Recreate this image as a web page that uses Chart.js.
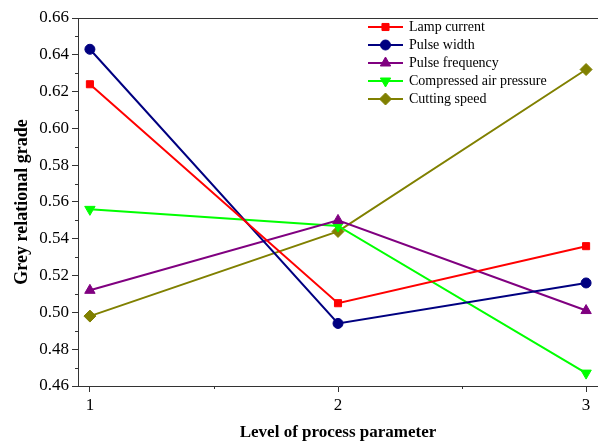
<!DOCTYPE html>
<html>
<head>
<meta charset="utf-8">
<script src="https://cdn.jsdelivr.net/npm/chart.js@4/dist/chart.umd.min.js"></script>
<style>
  html, body { margin: 0; padding: 0; background: #fff; }
  #wrap { width: 598px; height: 443px; }
</style>
</head>
<body>
<div id="wrap"><canvas id="chart"></canvas></div>
<script>
// levels of each process parameter
const levels = [1, 2, 3];
const seriesNames = ['Lamp current', 'Pulse width', 'Pulse frequency', 'Compressed air pressure', 'Cutting speed'];
const lampCurrent = [0.624, 0.505, 0.536];
const pulseWidth = [0.643, 0.494, 0.516];
const pulseFrequency = [0.512, 0.550, 0.501];
const airPressure = [0.556, 0.547, 0.467];
const cuttingSpeed = [0.498, 0.544, 0.632];
const yTicks = [0.46, 0.48, 0.50, 0.52, 0.54, 0.56, 0.58, 0.60, 0.62, 0.64, 0.66];

const serif = '"Liberation Serif", "Times New Roman", serif';
const axisColor = '#333';

const styles = [
  { color: '#ff0000', point: 'rect', r: 5 },
  { color: '#000080', point: 'circle', r: 5 },
  { color: '#800080', point: 'triangle', r: 6 },
  { color: '#00ff00', point: 'triangle', r: 6, rot: 180 },
  { color: '#808000', point: 'rectRot', r: 6 },
];
const allValues = [lampCurrent, pulseWidth, pulseFrequency, airPressure, cuttingSpeed];

const datasets = allValues.map((vals, i) => ({
  label: seriesNames[i],
  data: levels.map((x, j) => ({ x: x, y: vals[j] })),
  borderColor: styles[i].color,
  backgroundColor: styles[i].color,
  borderWidth: 2,
  pointStyle: styles[i].point,
  pointRadius: styles[i].r,
  pointRotation: styles[i].rot || 0,
  pointBorderWidth: 1,
  tension: 0,
  clip: false,
}));

// minor ticks, top frame and the inner legend
const extras = {
  id: 'extras',
  afterDraw(chart) {
    const ctx = chart.ctx;
    const a = chart.chartArea;
    const xs = chart.scales.x, ys = chart.scales.y;
    ctx.save();
    ctx.strokeStyle = axisColor;
    ctx.lineWidth = 1;
    ctx.beginPath();
    // top frame
    ctx.moveTo(a.left, a.top + 0.5);
    ctx.lineTo(a.right, a.top + 0.5);
    // minor y ticks
    for (let i = 0; i < yTicks.length - 1; i++) {
      const v = (yTicks[i] + yTicks[i + 1]) / 2;
      const py = Math.round(ys.getPixelForValue(v)) + 0.5;
      ctx.moveTo(a.left - 3, py);
      ctx.lineTo(a.left, py);
    }
    // minor x ticks
    for (let i = 0; i < levels.length - 1; i++) {
      const px = Math.round(xs.getPixelForValue((levels[i] + levels[i + 1]) / 2)) + 0.5;
      ctx.moveTo(px, a.bottom);
      ctx.lineTo(px, a.bottom + 3);
    }
    ctx.stroke();

    // legend
    ctx.font = '14px ' + serif;
    ctx.textBaseline = 'middle';
    chart.data.datasets.forEach((ds, i) => {
      const y = 27 + i * 18;
      ctx.strokeStyle = ds.borderColor;
      ctx.fillStyle = ds.borderColor;
      ctx.lineWidth = 2;
      ctx.beginPath();
      ctx.moveTo(368, y);
      ctx.lineTo(403, y);
      ctx.stroke();
      ctx.lineWidth = 1;
      Chart.helpers.drawPoint(ctx, {
        pointStyle: ds.pointStyle, radius: ds.pointRadius, rotation: ds.pointRotation, borderWidth: 1
      }, 385.5, y);
      ctx.fillStyle = '#000';
      ctx.fillText(ds.label, 409, y);
    });
    ctx.restore();
  }
};

new Chart(document.getElementById('chart'), {
  type: 'line',
  data: { datasets: datasets },
  options: {
    responsive: true,
    maintainAspectRatio: false,
    animation: false,
    layout: { autoPadding: false, padding: { top: 18, right: 0, left: 0, bottom: 0 } },
    plugins: {
      legend: { display: false },
      tooltip: { enabled: false },
    },
    scales: {
      x: {
        type: 'linear',
        min: 0.952,
        max: 3.048,
        afterBuildTicks: (s) => { s.ticks = levels.map(v => ({ value: v })); },
        afterFit: (s) => { s.height = 57; s.paddingLeft = 0; s.paddingRight = 0; },
        border: { display: true, color: axisColor, width: 1 },
        grid: { drawOnChartArea: false, drawTicks: true, tickLength: 6, color: axisColor },
        ticks: { color: '#000', font: { family: serif, size: 17 }, padding: 3, callback: v => String(v) },
        title: { display: true, text: 'Level of process parameter', color: '#000',
                 font: { family: serif, size: 17, weight: 'bold' }, padding: { top: 8, bottom: 0 } },
      },
      y: {
        min: 0.46,
        max: 0.66,
        afterBuildTicks: (s) => { s.ticks = yTicks.map(v => ({ value: v })); },
        afterFit: (s) => { s.width = 78; s.paddingTop = 0; s.paddingBottom = 0; },
        border: { display: true, color: axisColor, width: 1 },
        grid: { drawOnChartArea: false, drawTicks: true, tickLength: 6, color: axisColor },
        ticks: { color: '#000', font: { family: serif, size: 17 }, padding: 3, callback: v => v.toFixed(2) },
        title: { display: true, text: 'Grey relational grade', color: '#000',
                 font: { family: serif, size: 18, weight: 'bold' }, padding: { top: 12, bottom: 0 } },
      },
    },
  },
  plugins: [extras],
});
</script>
</body>
</html>
